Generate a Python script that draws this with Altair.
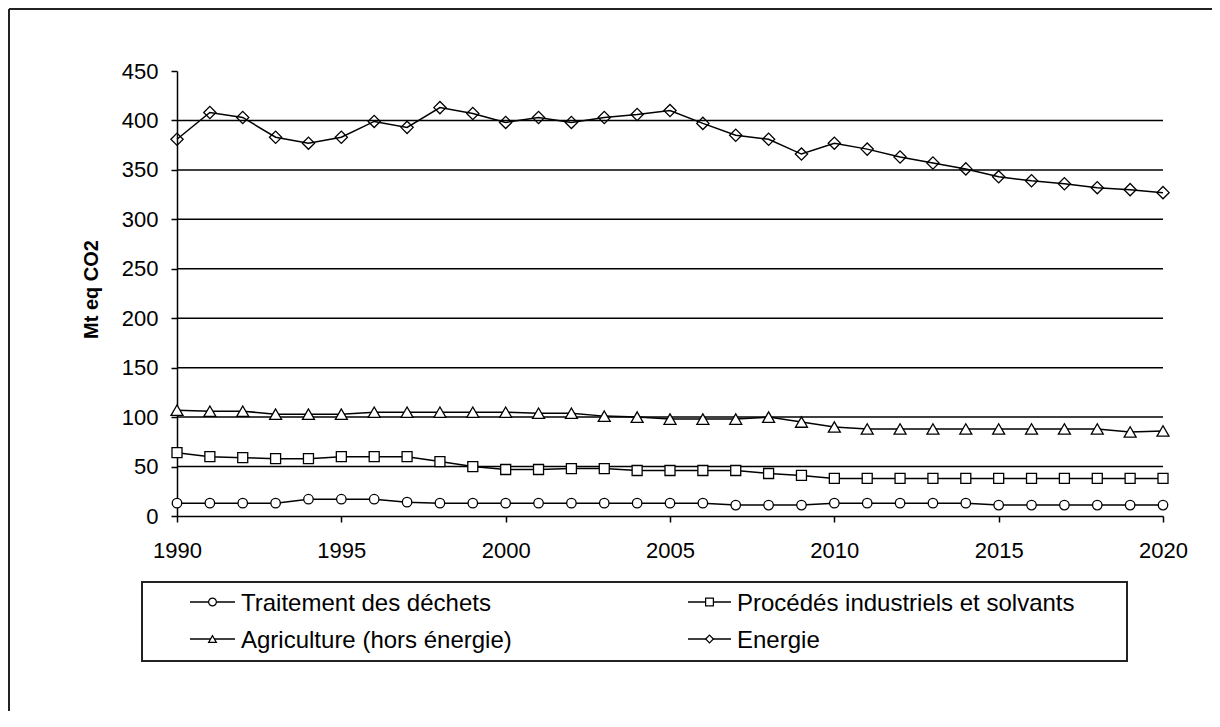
import altair as alt
import pandas as pd

years = list(range(1990, 2021))
dechets = [13, 13, 13, 13, 17, 17, 17, 14, 13, 13, 13, 13, 13, 13, 13, 13,
           13, 11, 11, 11, 13, 13, 13, 13, 13, 11, 11, 11, 11, 11, 11]
procedes = [64, 60, 59, 58, 58, 60, 60, 60, 55, 50, 47, 47, 48, 48, 46, 46,
            46, 46, 43, 41, 38, 38, 38, 38, 38, 38, 38, 38, 38, 38, 38]
agriculture = [107, 106, 106, 103, 103, 103, 105, 105, 105, 105, 105, 104, 104, 101, 100, 98,
               98, 98, 100, 95, 90, 88, 88, 88, 88, 88, 88, 88, 88, 85, 86]
energie = [381, 408, 403, 383, 377, 383, 399, 393, 413, 407, 398, 403, 398, 403, 406, 410,
           397, 385, 381, 366, 377, 371, 363, 357, 351, 343, 339, 336, 332, 330, 327]

series_names = ["Traitement des déchets", "Procédés industriels et solvants",
                "Agriculture (hors énergie)", "Energie"]
series_shapes = ["circle", "square", "triangle-up", "diamond"]
series_fills = ["white", "white", "white", "transparent"]
series_sizes = [90, 100, 144, 150]
y_ticks = [0, 50, 100, 150, 200, 250, 300, 350, 400, 450]
x_ticks = [1990, 1995, 2000, 2005, 2010, 2015, 2020]
grid_values = [50, 100, 150, 200, 250, 300, 350, 400]
y_title = "Mt eq CO2"

FONT = "Liberation Sans"
W, H = 986, 445

rows = []
for name, vals in zip(series_names, [dechets, procedes, agriculture, energie]):
    for yr, v in zip(years, vals):
        rows.append({"year": yr, "value": v, "series": name})
df = pd.DataFrame(rows)

xscale = alt.Scale(domain=[1990, 2020], nice=False, zero=False)
yscale = alt.Scale(domain=[0, 450], nice=False, zero=True)

xaxis = alt.Axis(values=x_ticks, format="d", title=None, labelFont=FONT, labelFontSize=22,
                 labelColor="black", tickColor="black", tickSize=6, tickWidth=1.5,
                 domainColor="black", domainWidth=1.5, grid=False, labelPadding=18,
                 labelFlush=False, labelOverlap=False)
yaxis = alt.Axis(values=y_ticks, title=y_title, titleFont=FONT, titleFontSize=20,
                 titleFontWeight="bold", titleColor="black", titleX=-80, titleY=218,
                 titleBaseline="alphabetic", labelFont=FONT, labelFontSize=22,
                 labelColor="black", tickColor="black", tickSize=6, tickWidth=1.5,
                 domainColor="black", domainWidth=1.5, grid=False, labelPadding=13,
                 labelOverlap=False)

one = pd.DataFrame({"k": [0]})

# Outer frame: only the top and left edges are inside the picture
frame_top = alt.Chart(one).mark_rule(color="#222", strokeWidth=2).encode(
    x=alt.value(-168), x2=alt.value(W + 200), y=alt.value(-62))
frame_left = alt.Chart(one).mark_rule(color="#222", strokeWidth=2).encode(
    x=alt.value(-168), y=alt.value(-62), y2=alt.value(H + 400))

grid = alt.Chart(pd.DataFrame({"value": grid_values})).mark_rule(
    color="black", strokeWidth=1.5).encode(
    y=alt.Y("value:Q", scale=yscale, axis=yaxis), x=alt.value(0), x2=alt.value(W))

lines = alt.Chart(df).mark_line(color="black", strokeWidth=1.5).encode(
    x=alt.X("year:Q", scale=xscale, axis=xaxis),
    y=alt.Y("value:Q", scale=yscale, axis=yaxis),
    detail="series:N")

layers = [frame_top, frame_left, grid, lines]
for name, shp, fil, sz in zip(series_names, series_shapes, series_fills, series_sizes):
    pts = alt.Chart(df).transform_filter(alt.datum.series == name).mark_point(
        shape=shp, size=sz, fill=fil, filled=False, stroke="black", strokeWidth=1.3,
        opacity=1).encode(
        x=alt.X("year:Q", scale=xscale, axis=xaxis),
        y=alt.Y("value:Q", scale=yscale, axis=yaxis))
    layers.append(pts)

# Legend box (drawn manually to show line+marker symbols)
box = alt.Chart(one).mark_rect(fill="white", stroke="#222", strokeWidth=2).encode(
    x=alt.value(-35), x2=alt.value(950), y=alt.value(511), y2=alt.value(590))
layers.append(box)

col_x = [13, 511]
col_len = [45, 43]
row_y = [531, 568]
for i, (name, shp, fil) in enumerate(zip(series_names, series_shapes, series_fills)):
    c, r = i % 2, i // 2
    x0 = col_x[c]
    yy = row_y[r]
    layers.append(alt.Chart(one).mark_rule(color="black", strokeWidth=1.5).encode(
        x=alt.value(x0), x2=alt.value(x0 + col_len[c]), y=alt.value(yy)))
    layers.append(alt.Chart(one).mark_point(
        shape=shp, size=60, fill="white", filled=False, stroke="black",
        strokeWidth=1.2, opacity=1).encode(
        x=alt.value(x0 + col_len[c] / 2), y=alt.value(yy)))
    layers.append(alt.Chart(one).mark_text(
        text=name, font=FONT, fontSize=24, color="black", align="left",
        baseline="middle").encode(
        x=alt.value(x0 + col_len[c] + 6), y=alt.value(yy + 2)))

chart = alt.layer(*layers).properties(
    width=W, height=H,
    autosize=alt.AutoSizeParams(type="none"),
    padding={"left": 169, "top": 63, "right": 49, "bottom": 195},
    background="white",
).configure_view(stroke=None)

chart.save("out.html", embed_options={"renderer": "svg", "actions": False})
